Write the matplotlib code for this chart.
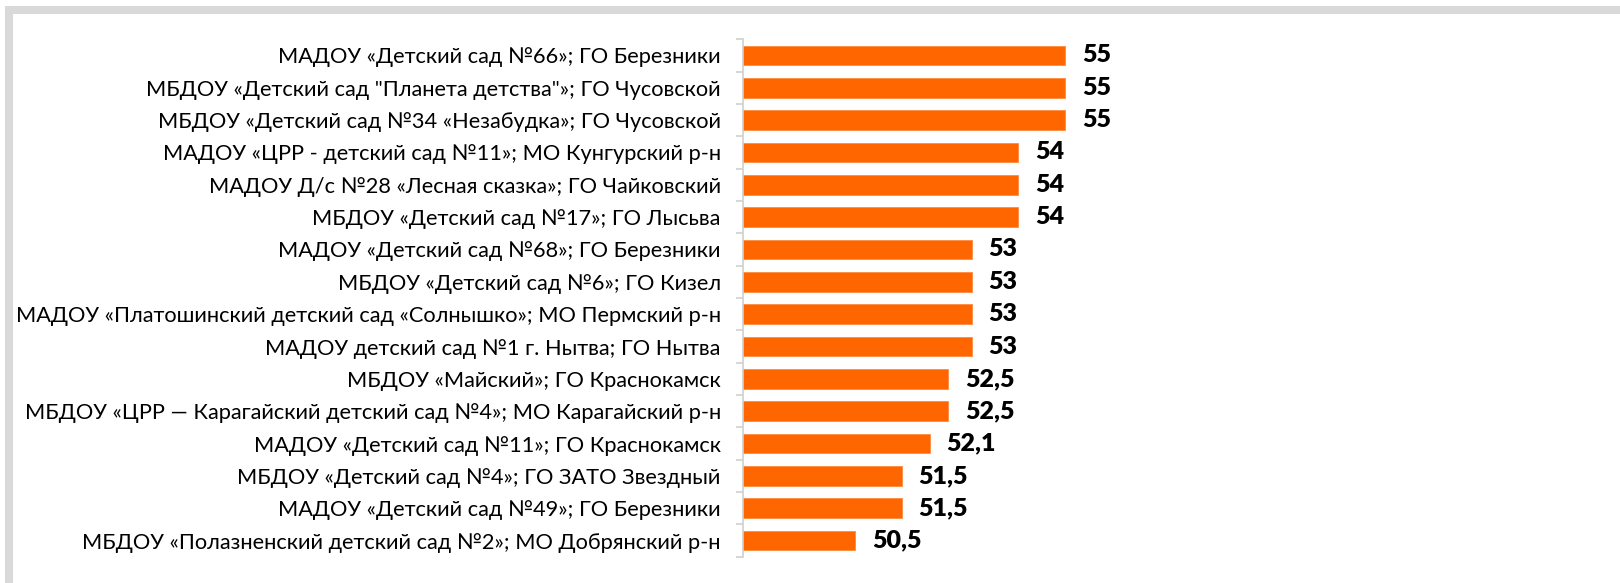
import matplotlib
matplotlib.use("Agg")
import matplotlib.pyplot as plt
from matplotlib.patches import Rectangle
import numpy as np

categories = [
    "МАДОУ «Детский сад №66»; ГО Березники",
    "МБДОУ «Детский сад \"Планета детства\"»; ГО Чусовской",
    "МБДОУ «Детский сад №34 «Незабудка»; ГО Чусовской",
    "МАДОУ «ЦРР - детский сад №11»; МО Кунгурский р-н",
    "МАДОУ Д/с №28 «Лесная сказка»; ГО Чайковский",
    "МБДОУ «Детский сад №17»; ГО Лысьва",
    "МАДОУ «Детский сад №68»; ГО Березники",
    "МБДОУ «Детский сад №6»; ГО Кизел",
    "МАДОУ «Платошинский детский сад «Солнышко»; МО Пермский р-н",
    "МАДОУ детский сад №1 г. Нытва; ГО Нытва",
    "МБДОУ «Майский»; ГО Краснокамск",
    "МБДОУ «ЦРР — Карагайский детский сад №4»; МО Карагайский р-н",
    "МАДОУ «Детский сад №11»; ГО Краснокамск",
    "МБДОУ «Детский сад №4»; ГО ЗАТО Звездный",
    "МАДОУ «Детский сад №49»; ГО Березники",
    "МБДОУ «Полазненский детский сад №2»; МО Добрянский р-н",
]
values = [55, 55, 55, 54, 54, 54, 53, 53, 53, 53, 52.5, 52.5, 52.1, 51.5, 51.5, 50.5]
value_labels = ["55", "55", "55", "54", "54", "54", "53", "53", "53", "53",
                "52,5", "52,5", "52,1", "51,5", "51,5", "50,5"]

W, H = 1620, 583
fig = plt.figure(figsize=(W / 100, H / 100), dpi=100)

# outer chart border
border = Rectangle((9 / W, 1 - 585 / H), (1650 - 9) / W, (585 - 9.5) / H,
                   transform=fig.transFigure, fill=False, edgecolor="#d9d9d9",
                   linewidth=5.8, clip_on=False)
fig.patches.append(border)

ax_left, ax_right = 743, 1560
ax_top, ax_bot = 39.3, 556.7
ax = fig.add_axes([ax_left / W, 1 - ax_bot / H, (ax_right - ax_left) / W, (ax_bot - ax_top) / H])

y = np.arange(len(values))
ax.barh(y, values, height=0.6, color="#FF6600", edgecolor="#ff8a3d", linewidth=0.6)
ax.set_xlim(48.1, 65.6)
ax.set_ylim(len(values) - 0.5, -0.5)

for yi, v, lab in zip(y, values, value_labels):
    ax.annotate(lab, xy=(v, yi), xytext=(12, 0), textcoords="offset points",
                ha="left", va="center", fontsize=18, fontweight="heavy",
                family=["Lato", "DejaVu Sans"], color="black")

for s in ["top", "right", "bottom"]:
    ax.spines[s].set_visible(False)
ax.spines["left"].set_color("#d0d0d0")
ax.spines["left"].set_linewidth(1.2)
ax.set_xticks([])
ax.set_yticks(y)
ax.set_yticklabels(categories, fontsize=15.7, family=["Lato", "DejaVu Sans"])
ax.tick_params(axis="y", which="major", length=0, pad=16)
ax.set_yticks(np.arange(-0.5, len(values), 1.0), minor=True)
ax.tick_params(axis="y", which="minor", length=5, color="#d0d0d0", width=1.2)

fig.savefig("out.png", dpi=100)
